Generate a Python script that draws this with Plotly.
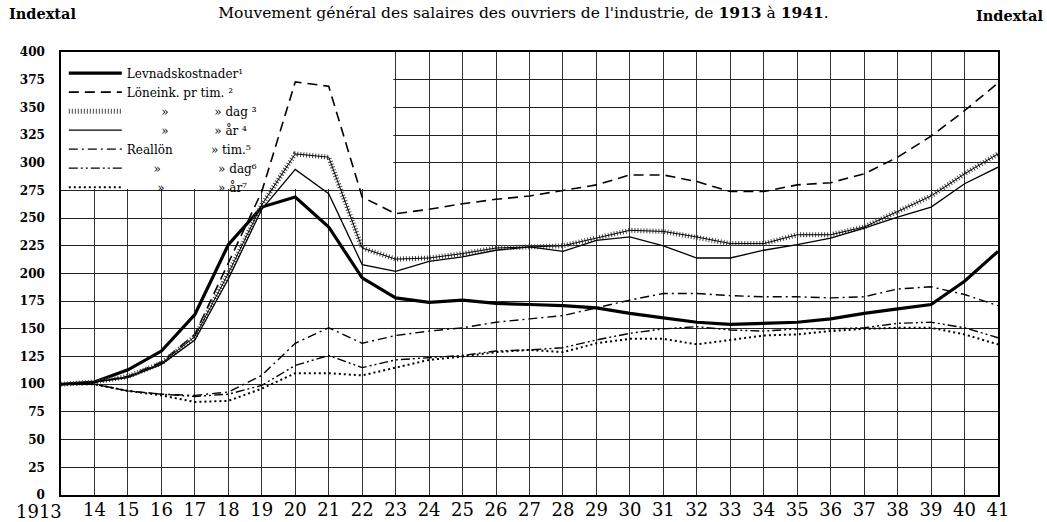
import plotly.graph_objects as go

years = list(range(1913, 1942))
x_labels = [""] + [str(y)[2:] for y in years[1:]]
y_ticks = list(range(0, 401, 25))

levnad = [100, 102, 113, 130, 163, 226, 260, 269, 242, 196, 178, 174, 176, 173, 172,
          171, 169, 164, 160, 156, 154, 155, 156, 159, 164, 168, 172, 193, 220]
lon_tim = [100, 102, 107, 120, 145, 210, 274, 373, 369, 269, 254, 258, 263, 267, 270,
           275, 280, 289, 289, 283, 274, 274, 280, 282, 290, 305, 324, 347, 372]
lon_dag = [100, 102, 107, 119, 143, 200, 262, 308, 305, 223, 213, 214, 218, 223, 224,
           225, 232, 239, 238, 233, 227, 227, 235, 235, 242, 256, 270, 290, 308]
lon_ar = [100, 102, 106, 118, 140, 195, 258, 294, 272, 208, 202, 211, 215, 221, 224,
          220, 230, 233, 225, 214, 214, 221, 226, 232, 241, 251, 260, 281, 296]
real_tim = [100, 100, 94, 91, 90, 93, 108, 137, 151, 137, 144, 148, 151, 156, 159,
            162, 169, 176, 182, 182, 180, 179, 179, 178, 179, 186, 188, 181, 171]
real_dag = [100, 100, 94, 91, 89, 91, 99, 117, 126, 115, 122, 124, 126, 130, 131,
            133, 140, 146, 150, 152, 149, 148, 150, 150, 151, 155, 156, 151, 142]
real_ar = [100, 100, 94, 90, 84, 85, 96, 110, 110, 108, 115, 122, 125, 129, 131,
           129, 137, 141, 141, 136, 140, 144, 145, 148, 150, 151, 151, 145, 136]

NB = "\u00a0"
names = [
    "Levnadskostnader¹",
    "Löneink. pr tim. ²",
    NB * 9 + "»" + NB * 12 + "»" + NB + "dag ³",
    NB * 9 + "»" + NB * 12 + "»" + NB + "år ⁴",
    "Reallön" + NB * 10 + "»" + NB + "tim.⁵",
    NB * 7 + "»" + NB * 15 + "»" + NB + "dag⁶",
    NB * 8 + "»" + NB * 14 + "»" + NB + "år⁷",
]

SERIF = "DejaVu Serif"
fig = go.Figure()

def add(y, name, width, dash, color="black", show=True, group=None):
    fig.add_trace(go.Scatter(
        x=years, y=y, name=name, mode="lines", showlegend=show,
        legendgroup=group, hoverinfo="skip",
        line=dict(color=color, width=width, dash=dash),
    ))

add(levnad, names[0], 3.2, "solid")
add(lon_tim, names[1], 1.6, "10px,6px")
add(lon_dag, names[2], 5, "1px,2px", color="#444", group="dag")
add(lon_dag, names[2], 1, "solid", show=False, group="dag")
add(lon_ar, names[3], 1.3, "solid")
add(real_tim, names[4], 1.4, "9px,4px,2px,4px")
add(real_dag, names[5], 1.4, "9px,3px,2px,3px,2px,3px")
add(real_ar, names[6], 2, "2px,3px")

fig.add_shape(type="rect", xref="x", yref="y", x0=1913, x1=1922.93, y0=276.2, y1=400,
              fillcolor="white", line=dict(width=0), layer="between")

fig.update_layout(
    width=1047, height=522,
    margin=dict(l=61, r=49, t=52, b=27, autoexpand=False),
    paper_bgcolor="white", plot_bgcolor="white",
    font=dict(family=SERIF, color="black"),
    title=dict(
        text="Mouvement général des salaires des ouvriers de l'industrie, de <b>1913</b> à <b>1941</b>.",
        x=0.5, xanchor="center", y=1 - 13 / 522, yanchor="middle",
        font=dict(family=SERIF, size=15.5, color="black"),
    ),
    legend=dict(
        x=0.003, y=0.985, xanchor="left", yanchor="top",
        bgcolor="rgba(0,0,0,0)", borderwidth=0,
        font=dict(family=SERIF, size=12, color="black"),
        itemwidth=53, tracegroupgap=0,
    ),
    showlegend=True,
    xaxis=dict(
        range=[1913, 1941], tickvals=years, ticktext=x_labels, automargin=False,
        showgrid=True, gridcolor="#333", gridwidth=1,
        zeroline=False, showline=True, mirror=True, linecolor="black", linewidth=1.5,
        ticks="", ticklabelstandoff=-2,
        tickfont=dict(family=SERIF, size=18, color="black"),
    ),
    yaxis=dict(
        range=[0, 400], tickvals=y_ticks, automargin=False,
        showgrid=True, gridcolor="#222", gridwidth=1.3,
        zeroline=False, showline=True, mirror=True, linecolor="black", linewidth=1.5,
        ticks="outside", ticklen=12, tickcolor="rgba(0,0,0,0)",
        tickfont=dict(family=SERIF, size=12, color="black", weight="bold"),
    ),
    yaxis2=dict(
        range=[0, 400], tickvals=y_ticks, overlaying="y", side="right", automargin=False,
        showgrid=False, zeroline=False, showline=False,
        ticks="", ticklabelstandoff=24,
        tickfont=dict(family=SERIF, size=12, color="black", weight="bold"),
    ),
)

fig.add_annotation(text="1913", x=0, y=0, xref="paper", yref="paper", xanchor="right",
                   yanchor="top", xshift=3, yshift=-4, showarrow=False,
                   font=dict(family=SERIF, size=18, color="black"))
fig.add_annotation(text="<b>Indextal</b>", x=0, y=1, xref="paper", yref="paper",
                   xanchor="left", yanchor="middle", xshift=-54, yshift=39, showarrow=False,
                   font=dict(family=SERIF, size=14.5, color="black"))
fig.add_annotation(text="<b>Indextal</b>", x=1, y=1, xref="paper", yref="paper",
                   xanchor="right", yanchor="middle", xshift=47, yshift=37, showarrow=False,
                   font=dict(family=SERIF, size=14.5, color="black"))

fig.write_html("out.html", config={"displayModeBar": False},
               post_script="document.body.style.margin='0';document.body.style.overflow='hidden';")
